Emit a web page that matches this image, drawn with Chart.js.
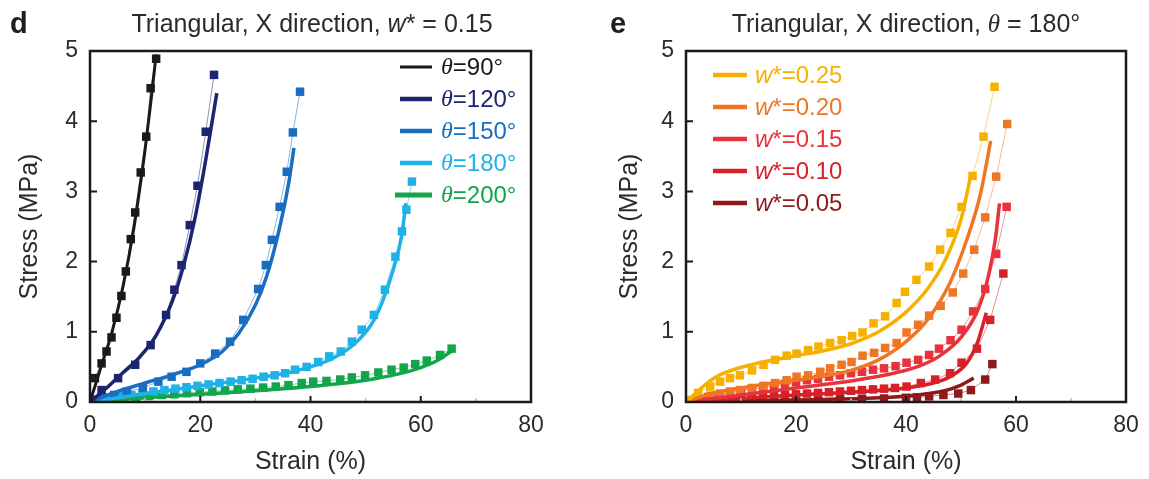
<!DOCTYPE html>
<html>
<head>
<meta charset="utf-8">
<script src="https://cdn.jsdelivr.net/npm/chart.js@4.4.1/dist/chart.umd.min.js"></script>
<style>
  body { margin: 0; background: #fff; width: 1149px; height: 479px; position: relative; overflow: hidden;
         font-family: "Liberation Sans", Arial, sans-serif; color: #2b2b2b; }
  .panel { position: absolute; top: 0; height: 479px; }
  #pd { left: 0; width: 574px; }
  #pe { left: 574px; width: 575px; }
  .tag { position: absolute; top: 9px; font-size: 29px; font-weight: bold; line-height: 1; color: #1e1e1e; }
  .ttl { position: absolute; top: 11px; font-size: 25px; line-height: 1; white-space: nowrap; transform: translateX(-50%); }
  .ttl i.th { font-family: "Liberation Serif", serif; }
</style>
</head>
<body>
<div class="panel" id="pd"><canvas id="cd"></canvas></div>
<div class="panel" id="pe"><canvas id="ce"></canvas></div>
<div class="tag" style="left:10px">d</div>
<div class="ttl" style="left:312px">Triangular, X direction, <i>w</i>* = 0.15</div>
<div class="tag" style="left:610px">e</div>
<div class="ttl" style="left:906px">Triangular, X direction, <i class="th">θ</i> = 180°</div>
<script>
// ---- panel d: w* = 0.15, varying theta ----
const thetaLabels = ['90', '120', '150', '180', '200'];
const thetaColors = ['#1a1a1a', '#1d2470', '#1a6ec0', '#1fb2e6', '#12a54a'];

const d90Exp = [[0.9,0.34],[2.1,0.55],[3.0,0.72],[3.9,0.92],[4.8,1.20],[5.7,1.51],[6.5,1.86],[7.4,2.32],[8.2,2.70],[9.2,3.27],[10.2,3.78],[11.0,4.47],[12.0,4.89]];
const d90Fit = [[0,0],[2,0.5],[4,1.0],[6,1.65],[8,2.5],[10,3.6],[11,4.25],[12,4.95]];

const d120Exp = [[0.3,0.03],[2.1,0.17],[5.1,0.34],[8.2,0.53],[11.0,0.81],[13.8,1.24],[15.3,1.60],[16.6,1.95],[18.1,2.52],[19.5,3.08],[21.0,3.85],[22.5,4.66]];
const d120Fit = [[0,0],[3,0.2],[6,0.42],[9,0.64],[12,0.95],[15,1.45],[17,1.95],[19,2.6],[21,3.45],[23,4.4]];

const d150Exp = [[0.3,0.02],[2.2,0.06],[4.4,0.1],[6.7,0.15],[9.6,0.2],[12.4,0.29],[14.8,0.36],[17.5,0.43],[20.0,0.55],[22.7,0.69],[25.4,0.86],[27.8,1.17],[30.5,1.61],[31.9,1.95],[33.0,2.31],[34.4,2.78],[35.7,3.28],[36.8,3.84],[38.1,4.42]];
const d150Fit = [[0,0],[5,0.15],[10,0.27],[15,0.39],[20,0.53],[24,0.72],[27,0.98],[30,1.38],[32,1.78],[34,2.35],[36,3.1],[37,3.62]];

const d180Exp = [[1.5,0.03],[3.5,0.06],[5.5,0.08],[7.5,0.1],[9.5,0.12],[11.5,0.15],[13.5,0.17],[15.5,0.19],[17.5,0.21],[19.5,0.23],[21.5,0.25],[23.5,0.27],[25.5,0.29],[27.5,0.31],[29.5,0.33],[31.5,0.36],[33.5,0.38],[35.4,0.41],[37.2,0.46],[39.3,0.50],[41.4,0.57],[43.4,0.65],[45.5,0.72],[47.5,0.86],[49.3,1.03],[51.5,1.24],[53.5,1.60],[55.4,2.07],[56.6,2.43],[57.4,2.74],[58.4,3.14]];
const d180Fit = [[0,0],[10,0.12],[20,0.23],[30,0.34],[36,0.42],[40,0.5],[44,0.62],[48,0.83],[51,1.1],[53,1.42],[55,1.88],[56.5,2.35],[57.3,2.83]];

const d200Exp = [[1.5,0.02],[3.8,0.04],[6.1,0.055],[8.4,0.07],[10.7,0.085],[13.0,0.1],[15.3,0.11],[17.6,0.125],[19.9,0.14],[22.2,0.15],[24.5,0.165],[26.8,0.18],[29.1,0.19],[31.4,0.205],[33.7,0.22],[36.0,0.24],[38.4,0.27],[40.5,0.29],[42.9,0.30],[45.4,0.32],[47.5,0.35],[49.9,0.38],[52.3,0.42],[54.7,0.46],[56.9,0.49],[59.0,0.54],[61.1,0.59],[63.5,0.67],[65.6,0.76]];
const d200Fit = [[0,0],[10,0.06],[20,0.11],[30,0.16],[40,0.22],[50,0.31],[56,0.4],[60,0.49],[63,0.59],[65.5,0.72]];

// ---- panel e: theta = 180, varying w* ----
const wLabels = ['0.25', '0.20', '0.15', '0.10', '0.05'];
const wColors = ['#f6b100', '#ef7624', '#e8323c', '#d82029', '#8e1a1c'];

const e25Exp = [[0.3,0.03],[2.2,0.13],[4.4,0.22],[6.2,0.29],[8.0,0.34],[9.8,0.38],[12.0,0.45],[14.1,0.53],[16.2,0.60],[18.3,0.66],[20.1,0.69],[22.2,0.74],[24.1,0.79],[26.2,0.84],[28.3,0.88],[30.2,0.94],[32.1,0.99],[34.1,1.12],[36.2,1.22],[38.3,1.41],[39.8,1.57],[41.9,1.74],[44.2,1.93],[46.2,2.17],[48.1,2.41],[50.1,2.78],[52.1,3.22],[54.1,3.78],[56.1,4.49]];
const e25Fit = [[0,0],[2,0.14],[4,0.28],[6,0.38],[9,0.47],[14,0.57],[20,0.66],[25,0.73],[30,0.83],[35,1.0],[40,1.28],[44,1.62],[47,2.0],[50,2.6],[51.7,3.2]];

const e20Exp = [[2.2,0.05],[4.4,0.09],[6.2,0.12],[8.0,0.15],[9.8,0.17],[12.0,0.20],[14.1,0.23],[16.2,0.27],[18.3,0.31],[20.1,0.36],[22.2,0.38],[24.4,0.43],[26.2,0.48],[28.3,0.53],[30.1,0.57],[32.1,0.66],[34.2,0.70],[36.2,0.77],[38.3,0.84],[40.1,0.99],[42.2,1.10],[44.2,1.23],[46.3,1.37],[48.5,1.56],[50.4,1.83],[52.4,2.17],[54.4,2.63],[56.4,3.21],[58.4,3.96]];
const e20Fit = [[0,0],[5,0.13],[10,0.2],[15,0.26],[20,0.31],[25,0.37],[30,0.45],[35,0.6],[40,0.86],[44,1.18],[48,1.7],[51,2.3],[53.5,2.95],[55.4,3.72]];

const e15Exp = [[2,0.04],[4,0.07],[6,0.1],[8,0.13],[10,0.16],[12,0.18],[14,0.21],[16,0.23],[18,0.26],[20,0.28],[22,0.31],[24,0.33],[26,0.36],[28,0.38],[30,0.41],[32,0.43],[34,0.46],[36,0.48],[38.1,0.51],[40.1,0.56],[42.2,0.60],[44.2,0.67],[46.0,0.76],[48.1,0.88],[50.1,1.03],[52.2,1.29],[54.4,1.61],[56.4,2.11],[58.3,2.78]];
const e15Fit = [[0,0],[10,0.1],[20,0.2],[30,0.3],[36,0.38],[42,0.5],[46,0.65],[50,0.92],[53,1.3],[55,1.8],[56.3,2.35],[57,2.83]];

const e10Exp = [[2,0.02],[4,0.03],[6,0.04],[8,0.05],[10,0.06],[12,0.07],[14,0.08],[16,0.09],[18,0.1],[20,0.11],[22,0.12],[24,0.13],[26,0.14],[28,0.15],[30,0.16],[32,0.17],[34,0.18],[36,0.19],[38,0.2],[40.1,0.22],[42.7,0.27],[45.3,0.32],[48.0,0.41],[50.1,0.56],[52.9,0.76],[55.3,1.17],[57.7,1.83]];
const e10Fit = [[0,0],[10,0.05],[20,0.1],[30,0.14],[40,0.2],[45,0.27],[48,0.36],[51,0.55],[53,0.85],[54.6,1.27]];

const e05Exp = [[4,0.01],[8,0.015],[12,0.02],[16,0.025],[20,0.03],[24,0.035],[28,0.04],[32,0.045],[36,0.05],[40,0.06],[42,0.065],[44.2,0.08],[46.8,0.1],[49.5,0.12],[51.8,0.17],[54.4,0.32],[55.7,0.54]];
const e05Fit = [[0,0],[20,0.03],[35,0.06],[42,0.1],[47,0.16],[50,0.24],[52.3,0.34]];

const xTicksMax = 80, yTicksMax = 5;

Chart.defaults.font.family = '"Liberation Sans", Arial, sans-serif';
Chart.defaults.color = '#2b2b2b';

function pts(arr) { return arr.map(p => ({ x: p[0], y: p[1] })); }
function fade(hex, a) {
    const n = parseInt(hex.slice(1), 16);
    return `rgba(${n >> 16}, ${(n >> 8) & 255}, ${n & 255}, ${a})`;
}
function expSet(arr, color) {
    return { data: pts(arr), showLine: true, borderColor: fade(color, 0.5), borderWidth: 1,
             pointStyle: 'rect', pointRadius: 6, pointBackgroundColor: color, pointBorderWidth: 0, key: false };
}
function fitSet(label, arr, color, w) {
    return { label, data: pts(arr), showLine: true, borderColor: color, borderWidth: w,
             pointRadius: 0, cubicInterpolationMode: 'monotone', key: true };
}

// frame + inward tick marks
const framePlugin = {
    id: 'frame',
    afterDraw(chart) {
        const { ctx, chartArea: a, scales } = chart;
        ctx.save();
        ctx.strokeStyle = '#1a1a1a';
        ctx.lineWidth = 2;
        ctx.beginPath();
        scales.x.ticks.forEach(t => {
            if (t.value <= 0 || t.value >= xTicksMax) return;
            const px = scales.x.getPixelForValue(t.value);
            ctx.moveTo(px, a.bottom); ctx.lineTo(px, a.bottom - 6);
        });
        scales.y.ticks.forEach(t => {
            if (t.value <= 0 || t.value >= yTicksMax) return;
            const py = scales.y.getPixelForValue(t.value);
            ctx.moveTo(a.left, py); ctx.lineTo(a.left + 7, py);
        });
        ctx.stroke();
        // faint minor ticks
        ctx.strokeStyle = '#bdbdbd';
        ctx.lineWidth = 1.5;
        ctx.beginPath();
        for (let v = 10; v < xTicksMax; v += 20) {
            const px = scales.x.getPixelForValue(v);
            ctx.moveTo(px, a.bottom); ctx.lineTo(px, a.bottom - 4);
        }
        ctx.stroke();
        ctx.strokeStyle = '#1a1a1a';
        ctx.lineWidth = 2.5;
        ctx.strokeRect(a.left, a.top, a.right - a.left, a.bottom - a.top);
        ctx.restore();
    }
};

// legend drawn inside the plot, text coloured like the line, symbol in italics
const keyPlugin = {
    id: 'key',
    afterDraw(chart, args, o) {
        const { ctx, chartArea: a } = chart;
        const x0 = o.fromRight ? a.right - o.dx : a.left + o.dx;
        let y = a.top + o.dy;
        ctx.save();
        ctx.textBaseline = 'middle';
        chart.data.datasets.filter(ds => ds.key).forEach((ds, i) => {
            const lw = o.lineW[i];
            ctx.strokeStyle = ds.borderColor;
            ctx.lineWidth = lw;
            ctx.beginPath();
            ctx.moveTo(x0 - (o.extra[i] || 0), y);
            ctx.lineTo(x0 + o.len, y);
            ctx.stroke();
            let tx = x0 + o.len + o.gap;
            ctx.fillStyle = ds.borderColor;
            ctx.font = o.symFont;
            ctx.fillText(o.sym, tx, y + 1);
            tx += ctx.measureText(o.sym).width;
            ctx.font = o.font;
            ctx.fillText(o.mid + ds.label + o.unit, tx, y + 1);
            y += o.step;
        });
        ctx.restore();
    }
};

function makeChart(id, datasets, yAxisW, padRight, yTitlePad, key) {
    return new Chart(document.getElementById(id), {
        type: 'scatter',
        data: { datasets },
        options: {
            responsive: true,
            maintainAspectRatio: false,
            animation: false,
            layout: { padding: { top: 51, right: padRight, left: 0, bottom: 0 } },
            scales: {
                x: {
                    type: 'linear', min: 0, max: xTicksMax,
                    ticks: { stepSize: 20, font: { size: 23 }, padding: 10, maxRotation: 0 },
                    grid: { display: false, drawTicks: false },
                    border: { display: false },
                    title: { display: true, text: 'Strain (%)', font: { size: 25 }, padding: { top: 0, bottom: 2 } },
                    afterFit(s) { s.height = 77; }
                },
                y: {
                    type: 'linear', min: 0, max: yTicksMax,
                    ticks: { stepSize: 1, font: { size: 23 }, padding: 12 },
                    grid: { display: false, drawTicks: false },
                    border: { display: false },
                    title: { display: true, text: 'Stress (MPa)', font: { size: 25 }, padding: { top: yTitlePad, bottom: 0 } },
                    afterFit(s) { s.width = yAxisW; }
                }
            },
            plugins: { legend: { display: false }, tooltip: { enabled: false }, key }
        },
        plugins: [framePlugin, keyPlugin]
    });
}

const dExp = [d90Exp, d120Exp, d150Exp, d180Exp, d200Exp];
const dFit = [d90Fit, d120Fit, d150Fit, d180Fit, d200Fit];
const dSets = [];
thetaLabels.forEach((t, i) => dSets.push(fitSet(t, dFit[i], thetaColors[i], i === 0 ? 3 : 3.5)));
thetaLabels.forEach((t, i) => dSets.push(expSet(dExp[i], thetaColors[i])));

makeChart('cd', dSets, 90, 43, 15, {
    fromRight: true, dx: 131, dy: 16, step: 32, len: 32, gap: 9,
    lineW: [3, 4.5, 4.5, 4.5, 5], extra: [0, 0, 0, 0, 5],
    sym: 'θ', symFont: 'italic 24px "Liberation Serif", serif',
    mid: '=', unit: '°', font: '24px "Liberation Sans", Arial, sans-serif'
});

const eExp = [e25Exp, e20Exp, e15Exp, e10Exp, e05Exp];
const eFit = [e25Fit, e20Fit, e15Fit, e10Fit, e05Fit];
const eSets = [];
wLabels.forEach((w, i) => eSets.push(fitSet(w, eFit[i], wColors[i], 3.5)));
wLabels.forEach((w, i) => eSets.push(expSet(eExp[i], wColors[i])));

makeChart('ce', eSets, 112, 23, 41, {
    fromRight: false, dx: 27, dy: 24, step: 32, len: 34, gap: 8,
    lineW: [4.5, 4.5, 4.5, 4.5, 4.5], extra: [],
    sym: 'w', symFont: 'italic 24px "Liberation Sans", Arial, sans-serif',
    mid: '*=', unit: '', font: '24px "Liberation Sans", Arial, sans-serif'
});
</script>
</body>
</html>
